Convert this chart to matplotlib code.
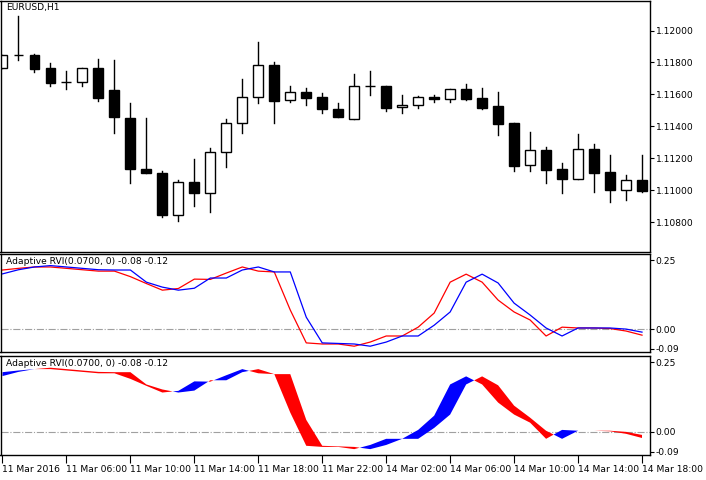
import matplotlib
matplotlib.use("Agg")
import matplotlib.pyplot as plt
import numpy as np

labels = ["11 Mar 2016", "11 Mar 06:00", "11 Mar 10:00", "11 Mar 14:00", "11 Mar 18:00",
          "11 Mar 22:00", "14 Mar 02:00", "14 Mar 06:00", "14 Mar 10:00", "14 Mar 14:00", "14 Mar 18:00"]

opens = [1.11763, 1.11844, 1.11844, 1.11763, 1.11675, 1.11675, 1.11763, 1.11625, 1.11450, 1.11131, 1.11106,
         1.10844, 1.11050, 1.10981, 1.11238, 1.11419, 1.11581, 1.11781, 1.11563, 1.11613, 1.11581,
         1.11506, 1.11444, 1.11650, 1.11650, 1.11519, 1.11531, 1.11581, 1.11569, 1.11631, 1.11575,
         1.11525, 1.11419, 1.11156, 1.11250, 1.11131, 1.11069, 1.11256, 1.11113, 1.11000, 1.11063]
closes = [1.11844, 1.11844, 1.11756, 1.11669, 1.11675, 1.11763, 1.11575, 1.11456, 1.11131, 1.11106, 1.10844,
          1.11050, 1.10981, 1.11238, 1.11419, 1.11581, 1.11781, 1.11556, 1.11613, 1.11575, 1.11506,
          1.11456, 1.11650, 1.11650, 1.11513, 1.11531, 1.11581, 1.11569, 1.11631, 1.11569, 1.11513,
          1.11413, 1.11150, 1.11250, 1.11125, 1.11069, 1.11256, 1.11106, 1.11000, 1.11063, 1.10994]
highs = [1.11844, 1.12094, 1.11856, 1.11794, 1.11744, 1.11763, 1.11819, 1.11813, 1.11544, 1.11450, 1.11119,
         1.11063, 1.11194, 1.11263, 1.11444, 1.11694, 1.11931, 1.11800, 1.11650, 1.11638, 1.11606,
         1.11544, 1.11725, 1.11744, 1.11650, 1.11594, 1.11588, 1.11594, 1.11631, 1.11663, 1.11638,
         1.11613, 1.11419, 1.11363, 1.11269, 1.11169, 1.11350, 1.11288, 1.11219, 1.11094, 1.11219]
lows = [1.11763, 1.11813, 1.11738, 1.11650, 1.11631, 1.11650, 1.11556, 1.11356, 1.11044, 1.11106, 1.10831,
        1.10806, 1.10900, 1.10863, 1.11144, 1.11356, 1.11544, 1.11419, 1.11550, 1.11531, 1.11481,
        1.11456, 1.11444, 1.11594, 1.11494, 1.11481, 1.11513, 1.11550, 1.11550, 1.11563, 1.11506,
        1.11344, 1.11119, 1.11119, 1.11044, 1.10981, 1.11069, 1.10988, 1.10925, 1.10938, 1.10988]

rvi = [0.214, 0.22, 0.225, 0.225, 0.22, 0.215, 0.21, 0.21, 0.19, 0.165, 0.141, 0.147, 0.181, 0.18, 0.203,
       0.225, 0.21, 0.207, 0.069, -0.05, -0.054, -0.054, -0.062, -0.047, -0.025, -0.025, 0.007, 0.058,
       0.17, 0.199, 0.17, 0.105, 0.062, 0.033, -0.025, 0.007, 0.004, 0.004, 0.002, -0.007, -0.022]
signal = [0.2, 0.215, 0.225, 0.23, 0.225, 0.22, 0.215, 0.214, 0.214, 0.17, 0.152, 0.141, 0.148, 0.185, 0.185,
          0.214, 0.225, 0.207, 0.207, 0.043, -0.05, -0.052, -0.054, -0.062, -0.047, -0.025, -0.025, 0.014,
          0.062, 0.17, 0.199, 0.167, 0.094, 0.051, 0.004, -0.025, 0.004, 0.004, 0.004, 0.0, -0.011]

W, H = 706, 480
fig = plt.figure(figsize=(W/100, H/100), dpi=100)
plt.rcParams['font.family'] = ['DejaVu Sans']
FS = 6.6

def ax_at(x0, y0, x1, y1):
    return fig.add_axes([x0/W, 1-y1/H, (x1-x0)/W, (y1-y0)/H])

ax1 = ax_at(0.5, 0.5, 650, 252)
ax2 = ax_at(0.5, 254, 650, 352)
ax3 = ax_at(0.5, 356, 650, 455)
x = np.arange(len(opens))
xl = (-0.125, 40.5)

for i in x:
    o, c, h, l = opens[i], closes[i], highs[i], lows[i]
    ax1.plot([i, i], [l, h], color='black', lw=1, zorder=1)
    bot, top = min(o, c), max(o, c)
    fc = 'white' if c >= o else 'black'
    hgt = max(top-bot, 0.00002)
    ax1.bar(i, hgt, bottom=bot, width=0.62, facecolor=fc, edgecolor='black', lw=1, zorder=2)
ax1.set_xlim(*xl)
ax1.set_ylim(1.10613, 1.12188)
ticks = [1.108, 1.110, 1.112, 1.114, 1.116, 1.118, 1.120]
ax1.set_yticks(ticks)
ax1.set_yticklabels([f"{v:.5f}" for v in ticks])
ax1.text(0.008, 0.992, "EURUSD,H1", transform=ax1.transAxes, va='top', ha='left', fontsize=FS)

ax2.plot(x, rvi, color='red', lw=0.9)
ax2.plot(x, signal, color='blue', lw=0.9)

r = np.array(rvi); s = np.array(signal)
ax3.fill_between(x, r, s, where=r <= s, color='red', interpolate=True, lw=0)
ax3.fill_between(x, r, s, where=r > s, color='blue', interpolate=True, lw=0)

for ax in (ax2, ax3):
    ax.set_xlim(*xl)
    ax.set_ylim(-0.083, 0.272)
    ax.axhline(0, color='#a0a0a0', lw=0.8, ls='-.', zorder=0)
    ax.set_yticks([0.25, 0.0, -0.072])
    ax.set_yticklabels(["0.25", "0.00", "-0.09"])
    ax.text(0.008, 0.97, "Adaptive RVI(0.0700, 0) -0.08 -0.12", transform=ax.transAxes,
            va='top', ha='left', fontsize=FS)

for ax in (ax1, ax2, ax3):
    ax.yaxis.tick_right()
    ax.tick_params(axis='y', direction='out', length=3, labelsize=FS, pad=1)
    for sp in ax.spines.values():
        sp.set_linewidth(1)
    ax.set_xticks(range(0, 41, 4))
    ax.tick_params(axis='x', length=0)
    ax.set_xticklabels([])

ax3.set_xticklabels(labels, fontsize=FS, ha='left')
ax3.tick_params(axis='x', direction='out', length=6, pad=1)

fig.savefig("out.png", dpi=100, facecolor='white')
